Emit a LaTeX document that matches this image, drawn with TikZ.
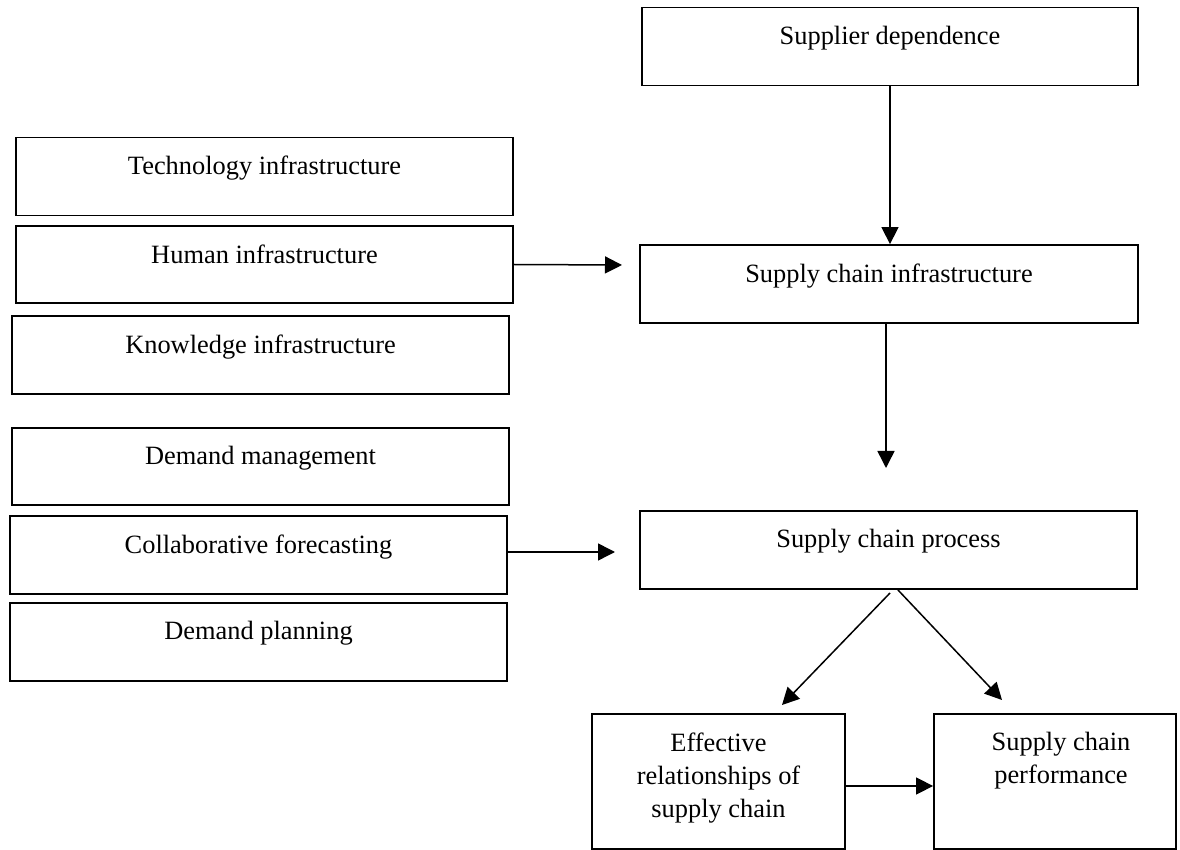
\documentclass[tikz,border=0pt]{standalone}
\usepackage{fontspec}
\setmainfont{Liberation Serif}
\usepackage{tikz}
\usetikzlibrary{positioning,arrows.meta}

\tikzset{
  box/.style={rectangle, draw=black, line width=0.9pt, fill=none,
    inner sep=0pt, minimum height=39pt},
  txt/.style={anchor=north, yshift=-9.5pt, inner sep=0pt, align=center,
    font=\fontsize{13.2pt}{16.5pt}\selectfont},
  link/.style={-{Triangle[length=8.5pt,width=8.5pt]}, line width=0.75pt}
}

\begin{document}
\begin{tikzpicture}[x=0.5pt, y=-0.5pt]
  \useasboundingbox (0,0) rectangle (1180,850);

  % right column
  \node[box, minimum width=248pt,
    label={[txt]north:Supplier dependence}] (sd) at (890,46.5) {};

  \node[box, minimum width=249pt,
    label={[txt]north:Supply chain infrastructure}] (sci) at (889,284) {};

  \node[box, minimum width=248.5pt,
    label={[txt]north:Supply chain process}] (scp) at (888.5,550) {};

  % left column
  \node[box, minimum width=248.5pt,
    label={[txt]north:Technology infrastructure}] (ti) at (264.5,176.5) {};

  \node[box, minimum width=248.5pt, minimum height=38.5pt,
    label={[txt]north:Human infrastructure}] (hi) at (264.5,264.5) {};

  \node[box, minimum width=248.5pt,
    label={[txt]north:Knowledge infrastructure}] (ki) at (260.5,355) {};

  \node[box, minimum width=248.5pt, minimum height=38.5pt,
    label={[txt]north:Demand management}] (dm) at (260.5,466.5) {};

  \node[box, minimum width=248.5pt,
    label={[txt]north:Collaborative forecasting}] (cf) at (258.5,555) {};

  \node[box, minimum width=248.5pt,
    label={[txt]north:Demand planning}] (dp) at (258.5,642) {};

  % bottom row
  \node[box, minimum width=126.5pt, minimum height=67.5pt,
    label={[txt]north:Effective\\relationships of\\supply chain}] (er) at (718.5,781.5) {};

  \node[box, minimum width=121pt, minimum height=67.5pt,
    label={[txt, xshift=3pt]north:Supply chain\\performance}] (sp) at (1055,781.5) {};

  % free arrow ends
  \coordinate (hiEnd) at (622,265);
  \coordinate (cfEnd) at (615,552);
  \coordinate (sciEnd) at (886,468);
  \coordinate (sciStart) at (886,323);
  \coordinate (lStart) at (890,593);
  \coordinate (lEnd) at (782,705);
  \coordinate (rStart) at (898,590);
  \coordinate (rEnd) at (1002,700);

  \draw [link] (sd.south) -- (sd.south |- sci.north);
  \draw [link] (hi.east) -- (hiEnd);
  \draw [link] (sciStart) -- (sciEnd);
  \draw [link] (cf.east |- cfEnd) -- (cfEnd);
  \draw [link] (lStart) -- (lEnd);
  \draw [link] (rStart) -- (rEnd);
  \draw [link] ([yshift=-2.25pt]er.east) -- ([yshift=-2.25pt]sp.west);
\end{tikzpicture}
\end{document}
